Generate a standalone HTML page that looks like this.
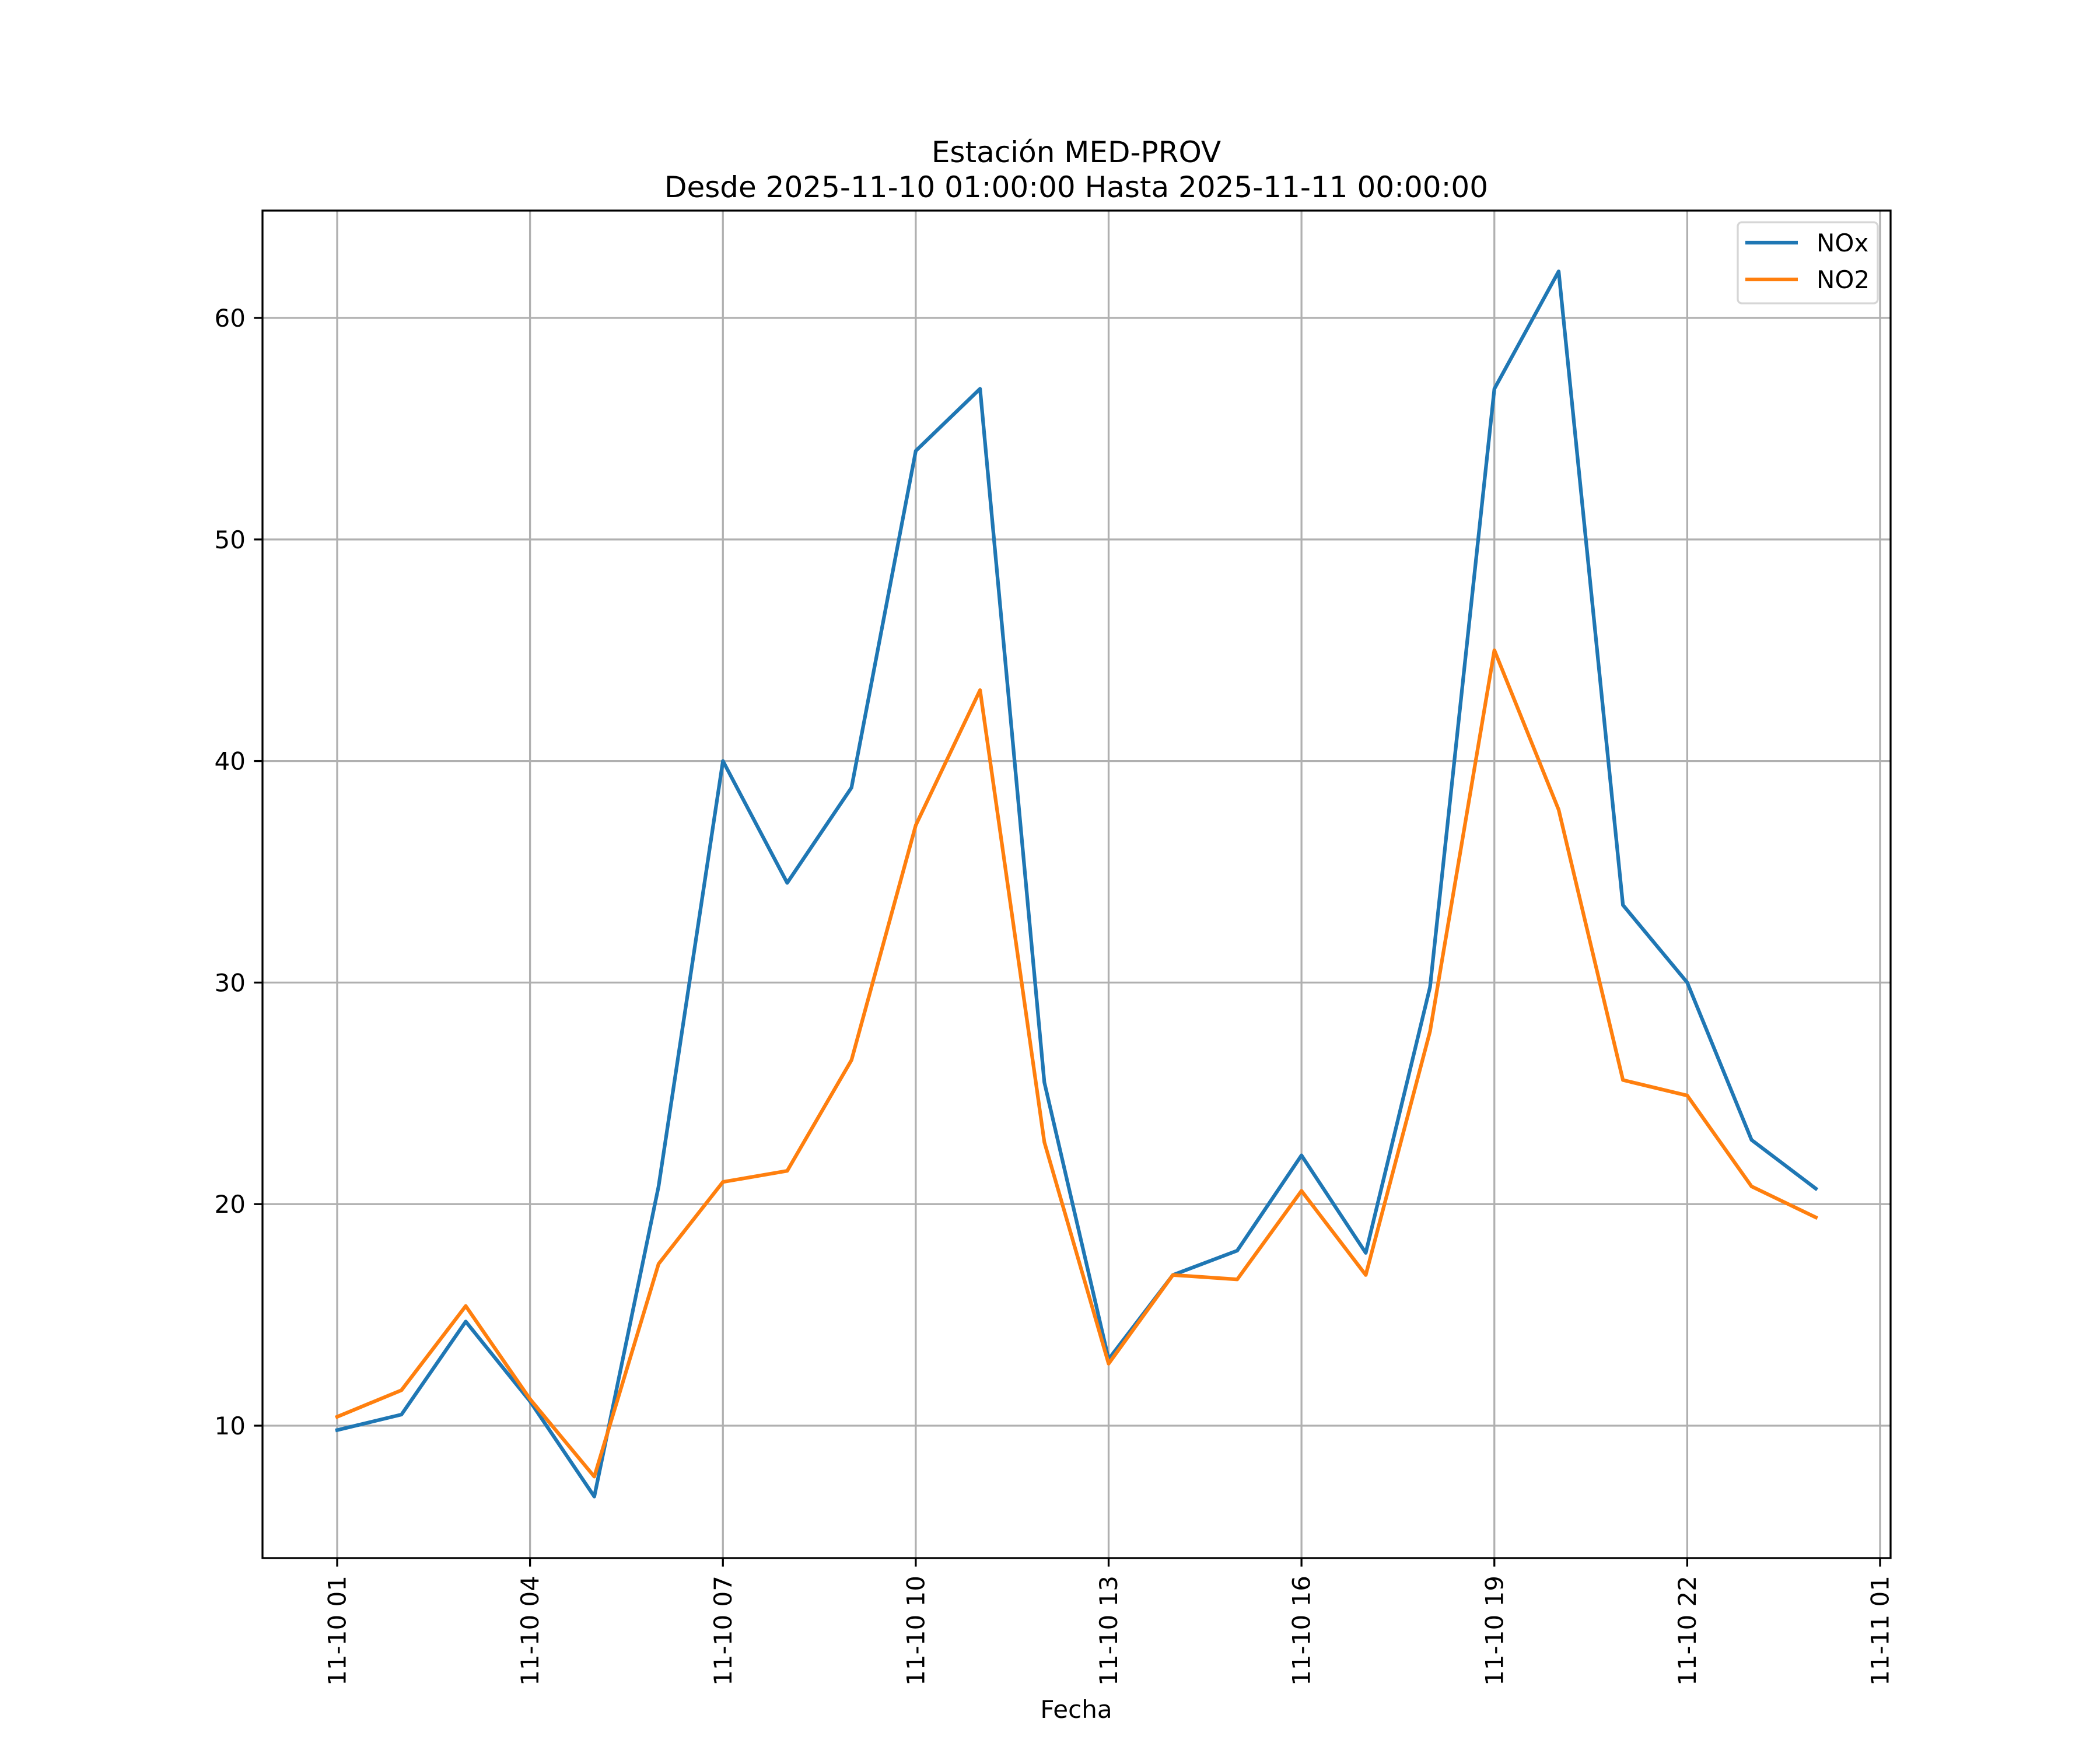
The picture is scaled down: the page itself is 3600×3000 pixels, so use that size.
<!DOCTYPE html>
<html><head><meta charset="utf-8"><style>
html,body{margin:0;padding:0;background:#fff}
svg{display:block;font-family:"DejaVu Sans","Liberation Sans",sans-serif}
</style></head><body>
<svg id="chart" width="3600" height="3000" viewBox="0 0 3600 3000" xmlns="http://www.w3.org/2000/svg">
<rect width="3600" height="3000" fill="#fff"/>
<text x="1845" y="278" font-size="50" text-anchor="middle">Estación MED-PROV</text>
<text x="1845" y="338" font-size="50" text-anchor="middle">Desde 2025-11-10 01:00:00 Hasta 2025-11-11 00:00:00</text>
<g id="grid"></g>
<g id="series"></g>
<rect x="450" y="361" width="2791" height="2310" fill="none" stroke="#000" stroke-width="3.3"/>
<g id="ticks"></g>
<text x="1845" y="2945" font-size="42" text-anchor="middle">Fecha</text>
<g>
<rect x="2979" y="381" width="240" height="139" rx="7" fill="#fff" fill-opacity="0.8" stroke="#d6d6d6" stroke-width="3.3"/>
<line x1="2992" y1="416" x2="3082" y2="416" stroke="#1f77b4" stroke-width="6.25"/>
<text x="3114" y="431" font-size="42">NOx</text>
<line x1="2992" y1="479" x2="3082" y2="479" stroke="#ff7f0e" stroke-width="6.25"/>
<text x="3114" y="494" font-size="42">NO2</text>
</g>
</svg>
<script>
const hours = [1,2,3,4,5,6,7,8,9,10,11,12,13,14,15,16,17,18,19,20,21,22,23,24];
const noxValues = [9.8,10.5,14.7,11.1,6.8,20.8,40.0,34.5,38.8,54.0,56.8,25.5,13.0,16.8,17.9,22.2,17.8,29.8,56.8,62.1,33.5,30.0,22.9,20.7];
const no2Values = [10.4,11.6,15.4,11.2,7.7,17.3,21.0,21.5,26.5,37.1,43.2,22.8,12.8,16.8,16.6,20.6,16.8,27.8,45.0,37.8,25.6,24.9,20.8,19.4];
const xTickHours = [1,4,7,10,13,16,19,22,25];
const xTickLabels = ["11-10 01","11-10 04","11-10 07","11-10 10","11-10 13","11-10 16","11-10 19","11-10 22","11-11 01"];
const yTicks = [10,20,30,40,50,60];

const NS = "http://www.w3.org/2000/svg";
const L = 450, R = 3241, T = 361, B = 2671;
function xs(h){ return 578 + (h - 1) * (3223 - 578) / 24; }
function ys(v){ return 2444 - (v - 10) * (2444 - 545) / 50; }
function mk(tag, attrs, parent){
  const e = document.createElementNS(NS, tag);
  for (const k in attrs) e.setAttribute(k, attrs[k]);
  parent.appendChild(e);
  return e;
}
const grid = document.getElementById('grid');
const ticks = document.getElementById('ticks');
const series = document.getElementById('series');

xTickHours.forEach((h, i) => {
  const x = xs(h);
  const g = mk('line', {x1:x, y1:T, x2:x, y2:B, stroke:'#b0b0b0', 'stroke-width':3.3}, grid);
  
  
  const t = mk('line', {x1:x, y1:B, x2:x, y2:B + 14.6, stroke:'#000', 'stroke-width':3.3}, ticks);
  
  
  const lb = mk('text', {x:0, y:0, 'font-size':42, 'text-anchor':'end', 'dominant-baseline':'central', transform:'translate(' + x + ',' + (B + 30) + ') rotate(-90)'}, ticks);
  lb.textContent = xTickLabels[i];
  
  
});
yTicks.forEach(v => {
  const y = ys(v);
  const g = mk('line', {x1:L, y1:y, x2:R, y2:y, stroke:'#b0b0b0', 'stroke-width':3.3}, grid);
  
  
  const t = mk('line', {x1:L - 14.6, y1:y, x2:L, y2:y, stroke:'#000', 'stroke-width':3.3}, ticks);
  
  
  const lb = mk('text', {x:L - 29, y:y + 15, 'font-size':42, 'text-anchor':'end'}, ticks);
  lb.textContent = v;
  
  
});
function drawLine(vals, color, name){
  const pts = vals.map((v, i) => xs(hours[i]).toFixed(1) + ',' + ys(v).toFixed(1)).join(' ');
  const p = mk('polyline', {points:pts, fill:'none', stroke:color, 'stroke-width':6.25, 'stroke-linejoin':'round', 'stroke-linecap':'square'}, series);
  
  
}
drawLine(noxValues, '#1f77b4', 'nox-line');
drawLine(no2Values, '#ff7f0e', 'no2-line');
</script>
</body></html>
